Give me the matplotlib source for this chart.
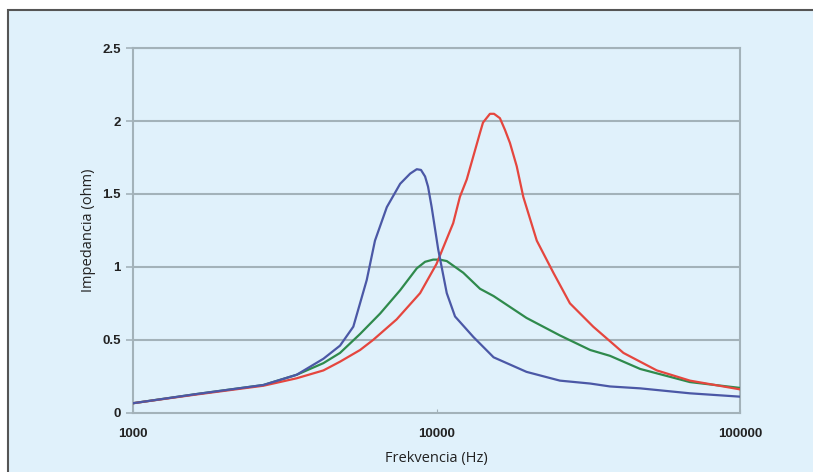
import matplotlib
matplotlib.use("Agg")
import matplotlib.pyplot as plt
from matplotlib.patches import Rectangle
from matplotlib.ticker import FixedLocator, NullLocator

# frequencies (Hz) and impedance (ohm)
blue_f = [1000, 1620, 2690, 3460, 4240, 4810, 5320, 5890, 6270, 6860, 7590, 8190, 8610,
          8890, 9170, 9380, 9640, 10130, 10810, 11510, 13220, 15420, 19800, 25500, 32100,
          37300, 46900, 68400, 100000]
blue_z = [0.065, 0.128, 0.19, 0.26, 0.37, 0.46, 0.59, 0.91, 1.18, 1.41, 1.57, 1.64, 1.67,
          1.665, 1.62, 1.55, 1.41, 1.12, 0.82, 0.66, 0.52, 0.38, 0.28, 0.22, 0.20,
          0.18, 0.167, 0.133, 0.11]

red_f = [1000, 1620, 2690, 3460, 4240, 4810, 5600, 6190, 7390, 8830, 10000, 11350, 11940,
         12580, 13910, 14230, 15000, 15470, 16180, 16810, 17460, 18380, 19320, 21400,
         24270, 27520, 32840, 41300, 53200, 68400, 100000]
red_z = [0.065, 0.125, 0.185, 0.236, 0.29, 0.35, 0.43, 0.50, 0.64, 0.82, 1.02, 1.30, 1.48,
         1.60, 1.92, 1.99, 2.05, 2.05, 2.02, 1.94, 1.85, 1.69, 1.48, 1.18,
         0.96, 0.75, 0.59, 0.41, 0.29, 0.22, 0.16]

green_f = [1000, 1620, 2690, 3460, 4240, 4810, 5600, 6520, 7590, 8610, 9170, 9750, 10250,
           10810, 12250, 13910, 15420, 19800, 25500, 32100, 37300, 46900, 68400, 100000]
green_z = [0.065, 0.128, 0.19, 0.26, 0.34, 0.41, 0.54, 0.68, 0.84, 0.99, 1.035, 1.05, 1.05,
           1.04, 0.96, 0.85, 0.80, 0.65, 0.53, 0.43, 0.39, 0.30, 0.21, 0.17]

x_ticks = [1000, 10000, 100000]
y_ticks = [0, 0.5, 1, 1.5, 2, 2.5]
y_labels = ["0", "0.5", "1", "1.5", "2", "2.5"]

bg = "#e0f1fb"
grid_col = "#a3b2b9"

fig = plt.figure(figsize=(8.13, 4.72), dpi=100)
fig.patch.set_facecolor("white")
# light blue panel with dark frame
fig.patches.append(Rectangle((8 / 813, -0.05), 1.1, 1 - 10 / 472 + 0.05,
                             transform=fig.transFigure, facecolor=bg,
                             edgecolor="#555555", linewidth=1.5, zorder=-1))

ax = fig.add_axes([133 / 813, 1 - 412.7 / 472, 607 / 813, 364.5 / 472])
ax.set_facecolor(bg)
ax.set_xscale("log")
ax.set_xlim(1000, 100000)
ax.set_ylim(0, 2.5)

for y in y_ticks[1:]:
    ax.axhline(y, color=grid_col, linewidth=1.5, zorder=1)

ax.plot(green_f, green_z, color="#2f8a4c", linewidth=1.6, zorder=3)
ax.plot(red_f, red_z, color="#e5463e", linewidth=1.6, zorder=4)
ax.plot(blue_f, blue_z, color="#4b58a6", linewidth=1.6, zorder=5)

for s in ax.spines.values():
    s.set_color(grid_col)
    s.set_linewidth(1.5)

ax.xaxis.set_major_locator(FixedLocator(x_ticks))
ax.xaxis.set_minor_locator(NullLocator())
ax.set_xticklabels([str(v) for v in x_ticks])
ax.set_yticks(y_ticks)
ax.set_yticklabels(y_labels)
ax.tick_params(axis="x", direction="in", length=3, color=grid_col, pad=11)
ax.tick_params(axis="y", direction="out", length=5, width=1.2, color=grid_col, pad=4)
for lab in ax.get_xticklabels() + ax.get_yticklabels():
    lab.set_family("Liberation Sans")
    lab.set_fontweight("bold")
    lab.set_fontsize(9.5)
    lab.set_color("#222222")

ax.set_xlabel("Frekvencia (Hz)", family="Open Sans", fontsize=10.5, color="#222222", labelpad=8)
ax.set_ylabel("Impedancia (ohm)", family="Open Sans", fontsize=10.5, color="#222222", labelpad=4)

fig.savefig("out.png", dpi=100, facecolor=fig.get_facecolor())
